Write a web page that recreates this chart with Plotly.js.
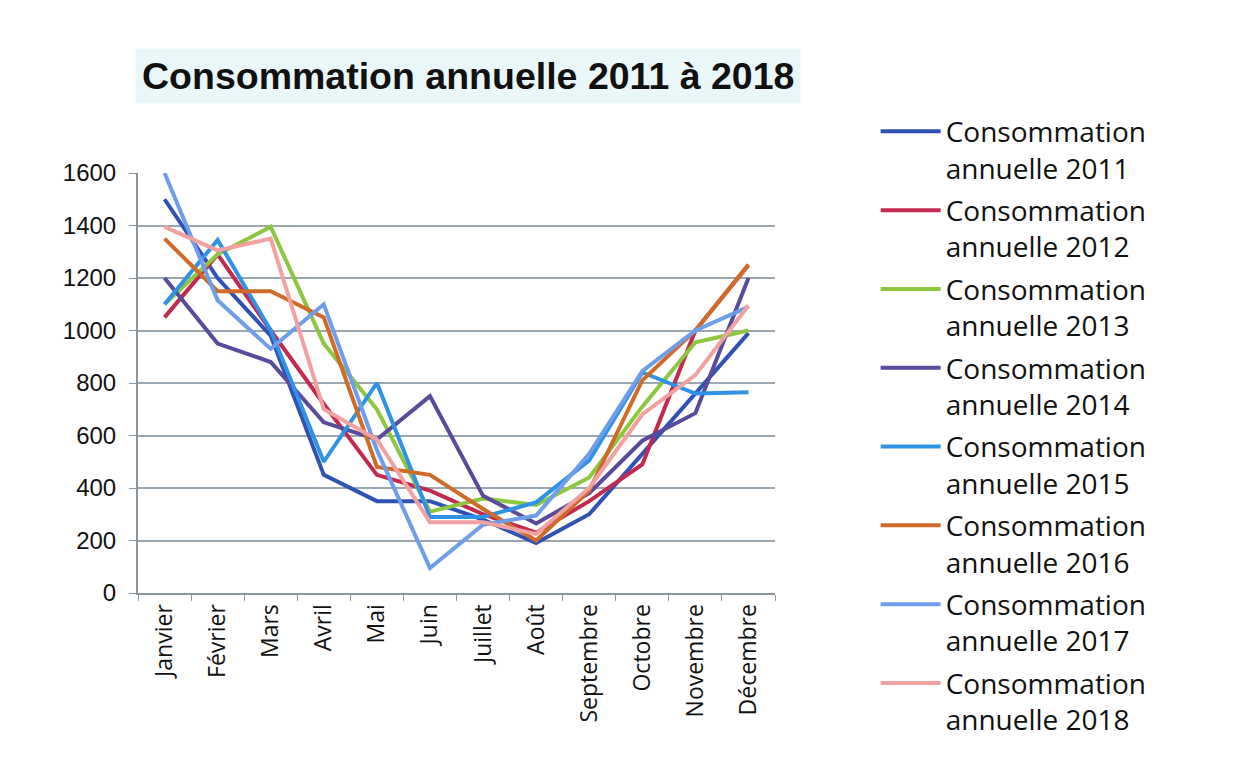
<!DOCTYPE html>
<html>
<head>
<meta charset="utf-8">
<script src="https://cdn.plot.ly/plotly-3.0.1.min.js"></script>
<style>html,body{margin:0;padding:0;background:#fff;}#chart{width:1246px;height:769px;}</style>
</head>
<body>
<div id="chart"></div>
<script>
const months = ["Janvier","Février","Mars","Avril","Mai","Juin","Juillet","Août","Septembre","Octobre","Novembre","Décembre"];
const seriesNames = ["Consommation<br>annuelle 2011","Consommation<br>annuelle 2012","Consommation<br>annuelle 2013","Consommation<br>annuelle 2014","Consommation<br>annuelle 2015","Consommation<br>annuelle 2016","Consommation<br>annuelle 2017","Consommation<br>annuelle 2018"];
const c2011 = [1500,1200,980,450,350,350,280,190,300,530,760,990];
const c2012 = [1050,1290,1000,720,450,390,300,230,350,490,1000,1250];
const c2013 = [1100,1290,1395,950,700,310,360,335,440,710,955,1000];
const c2014 = [1200,950,880,650,585,750,370,265,380,580,685,1200];
const c2015 = [1100,1345,1000,500,800,290,290,345,505,840,760,765];
const c2016 = [1350,1150,1150,1050,480,450,320,200,390,810,1000,1250];
const c2017 = [1600,1115,930,1100,545,95,260,295,530,845,1000,1090];
const c2018 = [1395,1305,1350,700,585,270,270,225,400,680,830,1095];
const yTicks = [0,200,400,600,800,1000,1200,1400,1600];
const colors = ["#2F52B4","#C3284F","#8DC63F","#5A4A9C","#2F92E4","#D06A28","#6E9EEA","#F2A0A0"];
const allSeries = [c2011,c2012,c2013,c2014,c2015,c2016,c2017,c2018];

const traces = allSeries.map((vals, i) => ({
  type: "scatter",
  mode: "lines",
  x: months,
  y: vals,
  name: seriesNames[i],
  legendgroup: "g" + i,
  line: {color: colors[i], width: 4}
}));

const layout = {
  width: 1246, height: 769,
  paper_bgcolor: "#ffffff",
  plot_bgcolor: "#ffffff",
  margin: {l: 138, r: 471, t: 173, b: 176},
  font: {family: "Open Sans, sans-serif", color: "#000"},
  showlegend: true,
  legend: {
    x: 1.158, y: 1.158, xanchor: "left", yanchor: "top",
    font: {family: "Open Sans, sans-serif", size: 28, color: "#111"},
    valign: "top",
    bgcolor: "rgba(0,0,0,0)",
    tracegroupgap: 3,
    itemwidth: 60,
    maxheight: 740
  },
  xaxis: {
    type: "category",
    range: [-0.5, 11.5],
    tickangle: -90,
    tickfont: {family: "Open Sans, sans-serif", size: 23, color: "#111"},
    ticks: "outside", ticklen: 6, tickcolor: "#8a949c",
    tickson: "boundaries",
    showline: true, linecolor: "#8a949c", linewidth: 2,
    showgrid: false,
    zeroline: false
  },
  yaxis: {
    range: [0, 1600],
    tickvals: yTicks,
    tickfont: {family: "Liberation Sans, Arial, sans-serif", size: 24, color: "#111"},
    ticks: "outside", ticklen: 7, tickcolor: "#8a949c",
    ticklabelstandoff: 8,
    showline: true, linecolor: "#8a949c", linewidth: 2,
    showgrid: true, gridcolor: "#9aa6b0", gridwidth: 2,
    zeroline: false
  },
  annotations: [{
    text: "<b>Consommation annuelle 2011 à 2018</b>",
    xref: "paper", yref: "paper",
    x: -0.005, y: 1.231, xanchor: "left", yanchor: "middle",
    showarrow: false,
    font: {family: "Liberation Sans, Arial, sans-serif", size: 37.5, color: "#111"},
    bgcolor: "#EAF7F8",
    borderpad: 6
  }]
};

Plotly.newPlot("chart", traces, layout, {displayModeBar: false, staticPlot: true});
</script>
</body>
</html>
